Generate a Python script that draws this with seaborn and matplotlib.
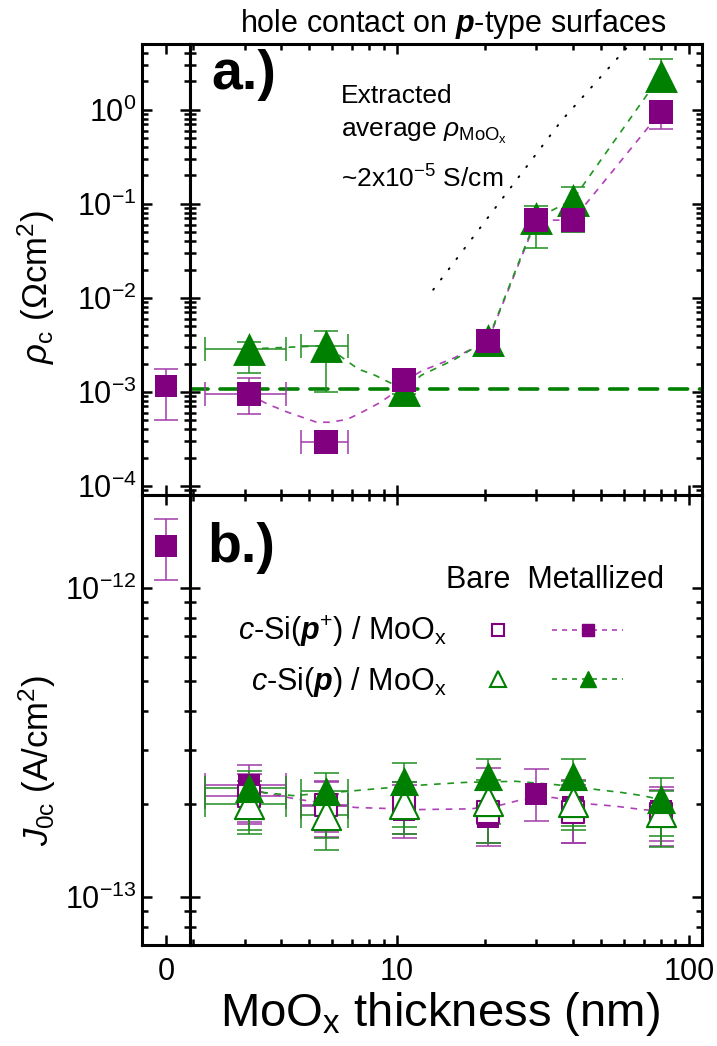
import numpy as np
import matplotlib
matplotlib.use("Agg")
import matplotlib.pyplot as plt
import seaborn as sns
from matplotlib.ticker import FixedLocator, FixedFormatter, NullFormatter, NullLocator
from matplotlib.lines import Line2D
from matplotlib.legend_handler import HandlerTuple

# ---------------- data ----------------
# panel a: contact resistivity rho_c (Ohm cm^2)
ref_x = [0.0]
rho_ref = [1.15e-3]
rho_ref_lo = [5.0e-4]
rho_ref_hi = [1.75e-3]

thick_pp = [3.1, 5.7, 10.6, 20.5, 30.0, 40.0, 80.0]
rho_pp = [9.4e-4, 2.9e-4, 1.35e-3, 3.5e-3, 6.7e-2, 6.7e-2, 0.94]
rho_pp_lo = [5.8e-4, 2.5e-4, 1.15e-3, 2.4e-3, 5.0e-2, 5.0e-2, 0.63]
rho_pp_hi = [1.42e-3, 3.4e-4, 1.6e-3, 4.5e-3, 8.5e-2, 8.5e-2, 1.2]

thick_p = [3.1, 5.7, 10.6, 20.5, 30.0, 40.0, 80.0]
rho_p = [2.86e-3, 3.1e-3, 1.05e-3, 3.6e-3, 7.0e-2, 0.11, 2.3]
rho_p_lo = [1.6e-3, 1.0e-3, 0.95e-3, 2.8e-3, 3.4e-2, 5.0e-2, 1.7]
rho_p_hi = [3.4e-3, 4.4e-3, 1.2e-3, 4.6e-3, 9.5e-2, 0.15, 3.5]

# thickness uncertainty of the two thinnest films
thin_x = [3.1, 5.7]
thin_x_lo = [2.2, 4.7]
thin_x_hi = [4.15, 6.8]

# guide-to-the-eye curves
guide_a_pp_x = [3.1, 3.6, 4.2, 5.3, 5.9, 6.75, 7.6, 8.75, 9.6, 10.6, 12.1, 15.7, 20.5, 30.0, 40.0, 80.0]
guide_a_pp_y = [9.4e-4, 7.4e-4, 6.1e-4, 4.75e-4, 4.75e-4, 5.1e-4, 6.1e-4, 7.7e-4, 9.4e-4, 1.3e-3,
                1.66e-3, 2.3e-3, 3.5e-3, 6.7e-2, 6.7e-2, 0.94]
guide_a_p_x = [3.1, 5.7, 7.35, 8.4, 10.6, 12.1, 15.7, 20.5, 30.0, 40.0, 80.0]
guide_a_p_y = [2.86e-3, 3.1e-3, 1.75e-3, 1.5e-3, 1.05e-3, 1.5e-3, 2.2e-3, 3.6e-3, 7.0e-2, 0.11, 2.3]

# average rho_c of the reference contact and fitted MoOx-resistivity line
rho_avg_level = 1.08e-3
fit_x = [13.3, 36.6, 62.5]
fit_y = [1.22e-2, 0.765, 4.87]

# panel b: recombination parameter J0c (A/cm^2)
J_ref = [1.365e-12]
J_ref_lo = [1.06e-12]
J_ref_hi = [1.67e-12]

J_pp_met_x = [3.1, 5.7, 10.6, 20.5, 30.0, 40.0, 80.0]
J_pp_met = [2.30e-13, 1.97e-13, 1.92e-13, 1.82e-13, 2.16e-13, 1.95e-13, 1.90e-13]
J_pp_met_lo = [1.75e-13, 1.56e-13, 1.55e-13, 1.46e-13, 1.76e-13, 1.50e-13, 1.46e-13]
J_pp_met_hi = [2.67e-13, 2.38e-13, 2.30e-13, 2.62e-13, 2.59e-13, 2.40e-13, 2.27e-13]

J_p_met_x = [3.1, 5.7, 10.6, 20.5, 40.0, 80.0]
J_p_met = [2.26e-13, 2.20e-13, 2.37e-13, 2.46e-13, 2.46e-13, 2.07e-13]
J_p_met_lo = [1.60e-13, 1.42e-13, 1.60e-13, 1.50e-13, 1.65e-13, 1.45e-13]
J_p_met_hi = [2.56e-13, 2.53e-13, 2.72e-13, 2.80e-13, 2.80e-13, 2.43e-13]

J_pp_bare_x = [3.1, 5.7, 10.6, 20.5, 40.0, 80.0]
J_pp_bare = [2.12e-13, 1.98e-13, 1.98e-13, 1.88e-13, 1.89e-13, 1.86e-13]
J_pp_bare_lo = [1.72e-13, 1.62e-13, 1.60e-13, 1.50e-13, 1.50e-13, 1.52e-13]
J_pp_bare_hi = [2.50e-13, 2.35e-13, 2.36e-13, 2.25e-13, 2.30e-13, 2.22e-13]

J_p_bare_x = [3.1, 5.7, 10.6, 20.5, 40.0, 80.0]
J_p_bare = [2.00e-13, 1.84e-13, 2.00e-13, 2.05e-13, 2.03e-13, 1.88e-13]
J_p_bare_lo = [1.65e-13, 1.55e-13, 1.68e-13, 1.72e-13, 1.70e-13, 1.58e-13]
J_p_bare_hi = [2.38e-13, 2.15e-13, 2.35e-13, 2.40e-13, 2.38e-13, 2.20e-13]

guide_b_pp_x = [3.1, 3.45, 4.6, 7.2, 12.0, 17.9, 22.9, 26.9, 34.3, 46.1, 55.8, 69.2, 80.0]
guide_b_pp_y = [2.30e-13, 2.18e-13, 2.07e-13, 1.95e-13, 1.92e-13, 1.93e-13, 1.99e-13, 2.07e-13,
                2.10e-13, 2.00e-13, 1.97e-13, 1.92e-13, 1.90e-13]
guide_b_p_x = [3.1, 3.5, 4.4, 6.8, 8.4, 12.6, 17.0, 25.5, 35.2, 50.0, 58.9, 69.2, 80.0]
guide_b_p_y = [2.26e-13, 2.18e-13, 2.13e-13, 2.20e-13, 2.24e-13, 2.31e-13, 2.35e-13, 2.37e-13,
               2.31e-13, 2.22e-13, 2.18e-13, 2.13e-13, 2.07e-13]

# axis ticks
x_major_main = [10, 100]
x_major_main_labels = ["10", "100"]
x_major_left = [0]
x_major_left_labels = ["0"]
ya_major = [1e-4, 1e-3, 1e-2, 1e-1, 1e0]
ya_major_labels = [r"10$^{-4}$", r"10$^{-3}$", r"10$^{-2}$", r"10$^{-1}$", r"10$^{0}$"]
yb_major = [1e-13, 1e-12]
yb_major_labels = [r"10$^{-13}$", r"10$^{-12}$"]

# ---------------- style ----------------
sns.set_theme(style="ticks")
plt.rcParams["font.family"] = ["Liberation Sans", "DejaVu Sans"]
plt.rcParams["mathtext.fontset"] = "custom"
plt.rcParams["mathtext.rm"] = "Liberation Sans"
plt.rcParams["mathtext.it"] = "Liberation Sans:italic"
plt.rcParams["mathtext.bf"] = "Liberation Sans:italic:bold"
plt.rcParams["mathtext.sf"] = "Liberation Sans"
plt.rcParams["axes.unicode_minus"] = False
plt.rcParams["text.color"] = "black"
plt.rcParams["axes.labelcolor"] = "black"

purple = "#800080"
purple_err = "#a03aa8"
purple_dash = "#b040b8"
green = "#008000"
green_err = "#1f8f1f"
green_dash = "#1f951f"

fig = plt.figure(figsize=(7.17, 10.46), dpi=100)
W, H = 717.0, 1046.0


def frac(x0, y0, x1, y1):
    return [x0 / W, 1 - y1 / H, (x1 - x0) / W, (y1 - y0) / H]


axaL = fig.add_axes(frac(142, 44, 190, 495))
axaM = fig.add_axes(frac(190, 44, 702, 495))
axbL = fig.add_axes(frac(142, 495, 190, 945))
axbM = fig.add_axes(frac(190, 495, 702, 945))

for ax in (axaL, axaM, axbL, axbM):
    ax.set_facecolor("white")
    ax.set_yscale("log")
    for s in ax.spines.values():
        s.set_linewidth(2.2)
        s.set_color("black")
        s.set_visible(True)
    ax.tick_params(which="both", direction="in", top=True, bottom=True, left=True, right=True,
                   width=1.8, color="black", labelsize=22, labelcolor="black")
    ax.tick_params(which="major", length=7)
    ax.tick_params(which="minor", length=4.3)
    ax.grid(False)


def minor_log(lo_dec, hi_dec):
    return [m * 10.0 ** d for d in range(lo_dec, hi_dec) for m in range(2, 10)]


for ax in (axaL, axaM):
    ax.set_ylim(8e-5, 5)
    ax.yaxis.set_major_locator(FixedLocator(ya_major))
    ax.yaxis.set_major_formatter(FixedFormatter(ya_major_labels))
    ax.yaxis.set_minor_locator(FixedLocator([v for v in minor_log(-5, 1) if 8e-5 < v < 5]))
    ax.yaxis.set_minor_formatter(NullFormatter())
    ax.tick_params(axis="x", which="both", labelbottom=False)
for ax in (axbL, axbM):
    ax.set_ylim(7e-14, 2e-12)
    ax.yaxis.set_major_locator(FixedLocator(yb_major))
    ax.yaxis.set_major_formatter(FixedFormatter(yb_major_labels))
    ax.yaxis.set_minor_locator(FixedLocator([v for v in minor_log(-14, -11) if 7e-14 < v < 1.99e-12]))
    ax.yaxis.set_minor_formatter(NullFormatter())
    ax.tick_params(axis="x", which="major", pad=9)

for ax in (axaM, axbM):
    ax.set_xscale("log")
    ax.set_xlim(1.95, 111)
    ax.xaxis.set_major_locator(FixedLocator(x_major_main))
    ax.xaxis.set_major_formatter(FixedFormatter(x_major_main_labels))
    ax.xaxis.set_minor_locator(FixedLocator([v for v in minor_log(0, 2) if 1.95 < v < 111]))
    ax.xaxis.set_minor_formatter(NullFormatter())
    ax.tick_params(axis="y", which="both", labelleft=False)

for ax in (axaL, axbL):
    ax.set_xlim(-1, 1)
    ax.xaxis.set_major_locator(FixedLocator(x_major_left))
    ax.xaxis.set_major_formatter(FixedFormatter(x_major_left_labels))
    ax.xaxis.set_minor_locator(NullLocator())
    ax.tick_params(axis="y", which="major", pad=4)


def yerr(y, lo, hi):
    y = np.asarray(y, float)
    return [y - np.asarray(lo, float), np.asarray(hi, float) - y]


def xerr(x, lo, hi):
    x = np.asarray(x, float)
    return [x - np.asarray(lo, float), np.asarray(hi, float) - x]


# ---------------- panel a ----------------
axaM.axhline(rho_avg_level, color=green, lw=2.6, ls=(0, (5, 3.3)), dash_capstyle="round", zorder=2)
sns.lineplot(x=fit_x, y=fit_y, ax=axaM, color="black", lw=1.4, ls=(0, (0.6, 6)),
             dash_capstyle="round", sort=False, estimator=None, zorder=2)
sns.lineplot(x=guide_a_pp_x, y=guide_a_pp_y, ax=axaM, color=purple_dash, lw=1.2, ls=(0, (4, 4)),
             sort=False, estimator=None, zorder=3)
sns.lineplot(x=guide_a_p_x, y=guide_a_p_y, ax=axaM, color=green_dash, lw=1.2, ls=(0, (4, 4)),
             sort=False, estimator=None, zorder=3)

axaM.errorbar(thick_pp, rho_pp, yerr=yerr(rho_pp, rho_pp_lo, rho_pp_hi), fmt="none",
              ecolor=purple_err, elinewidth=1.1, capsize=8.5, capthick=1.1, zorder=4)
axaM.errorbar(thin_x, rho_pp[:2], xerr=xerr(thin_x, thin_x_lo, thin_x_hi), fmt="none",
              ecolor=purple_err, elinewidth=1.1, capsize=8.5, capthick=1.1, zorder=4)
axaM.errorbar(thick_p, rho_p, yerr=yerr(rho_p, rho_p_lo, rho_p_hi), fmt="none",
              ecolor=green_err, elinewidth=1.1, capsize=8.5, capthick=1.1, zorder=4)
axaM.errorbar(thin_x, rho_p[:2], xerr=xerr(thin_x, thin_x_lo, thin_x_hi), fmt="none",
              ecolor=green_err, elinewidth=1.1, capsize=8.5, capthick=1.1, zorder=4)

sns.scatterplot(x=thick_p, y=rho_p, ax=axaM, marker="^", s=560, color=green, edgecolor=green,
                linewidth=0, zorder=5)
sns.scatterplot(x=thick_pp, y=rho_pp, ax=axaM, marker="s", s=300, color=purple, edgecolor=purple,
                linewidth=0, zorder=6)

axaL.errorbar(ref_x, rho_ref, yerr=yerr(rho_ref, rho_ref_lo, rho_ref_hi), fmt="none",
              ecolor=purple_err, elinewidth=1.1, capsize=8.5, capthick=1.1, zorder=4)
sns.scatterplot(x=ref_x, y=rho_ref, ax=axaL, marker="s", s=270, color=purple, edgecolor=purple,
                linewidth=0, zorder=6)

# ---------------- panel b ----------------
sns.lineplot(x=guide_b_pp_x, y=guide_b_pp_y, ax=axbM, color=purple_dash, lw=1.2, ls=(0, (4, 4)),
             sort=False, estimator=None, zorder=3)
sns.lineplot(x=guide_b_p_x, y=guide_b_p_y, ax=axbM, color=green_dash, lw=1.2, ls=(0, (4, 4)),
             sort=False, estimator=None, zorder=3)

for xs, ys, lo, hi, col in [
    (J_pp_met_x, J_pp_met, J_pp_met_lo, J_pp_met_hi, purple_err),
    (J_pp_bare_x, J_pp_bare, J_pp_bare_lo, J_pp_bare_hi, purple_err),
    (J_p_bare_x, J_p_bare, J_p_bare_lo, J_p_bare_hi, green_err),
    (J_p_met_x, J_p_met, J_p_met_lo, J_p_met_hi, green_err),
]:
    axbM.errorbar(xs, ys, yerr=yerr(ys, lo, hi), fmt="none", ecolor=col, elinewidth=1.1,
                  capsize=9, capthick=1.1, zorder=4)
    axbM.errorbar(thin_x, ys[:2], xerr=xerr(thin_x, thin_x_lo, thin_x_hi), fmt="none", ecolor=col,
                  elinewidth=1.1, capsize=9, capthick=1.1, zorder=4)

sns.scatterplot(x=J_pp_met_x, y=J_pp_met, ax=axbM, marker="s", s=245, color=purple,
                edgecolor=purple, linewidth=0, zorder=5)
sns.scatterplot(x=J_pp_bare_x, y=J_pp_bare, ax=axbM, marker="s", s=245, color="white",
                edgecolor=purple, linewidth=1.5, zorder=6)
sns.scatterplot(x=J_p_bare_x, y=J_p_bare, ax=axbM, marker="^", s=440, color="white",
                edgecolor=green, linewidth=1.5, zorder=7)
sns.scatterplot(x=J_p_met_x, y=J_p_met, ax=axbM, marker="^", s=440, color=green,
                edgecolor=green, linewidth=0, zorder=8)

axbL.errorbar(ref_x, J_ref, yerr=yerr(J_ref, J_ref_lo, J_ref_hi), fmt="none",
              ecolor=purple_err, elinewidth=1.1, capsize=8.5, capthick=1.1, zorder=4)
sns.scatterplot(x=ref_x, y=J_ref, ax=axbL, marker="s", s=270, color=purple, edgecolor=purple,
                linewidth=0, zorder=6)

# ---------------- labels & text ----------------
for ax in (axaL, axaM, axbL, axbM):
    ax.set_xlabel("")
    ax.set_ylabel("")

axaL.set_ylabel(r"$\rho_{\mathrm{c}}$ ($\Omega$cm$^{2}$)", fontsize=25, color="black")
axaL.yaxis.set_label_coords(-1.78, 0.46)
axbL.set_ylabel(r"$J_{\mathrm{0c}}$ (A/cm$^{2}$)", fontsize=25, color="black")
axbL.yaxis.set_label_coords(-1.74, 0.41)

axbM.set_xlabel(r"MoO$_{\mathrm{x}}$ thickness (nm)", fontsize=34, color="black")
axbM.xaxis.set_label_coords(0.488, -0.10)

axaM.set_title(r"hole contact on $\mathbf{p}$-type surfaces", fontsize=22, pad=9, x=0.514,
               color="black")

axaM.text(0.041, 0.931, "a.)", transform=axaM.transAxes, fontsize=40, fontweight="bold",
          ha="left", va="center", color="black")
axbM.text(0.033, 0.882, "b.)", transform=axbM.transAxes, fontsize=40, fontweight="bold",
          ha="left", va="center", color="black")

axaM.text(0.295, 0.869, "Extracted", transform=axaM.transAxes, fontsize=19, ha="left",
          va="baseline", color="black")
axaM.text(0.295, 0.794, r"average $\rho_{\mathrm{MoO}_{\mathrm{x}}}$", transform=axaM.transAxes,
          fontsize=19, ha="left", va="baseline", color="black")
axaM.text(0.295, 0.681, r"~2x10$^{-5}$ S/cm", transform=axaM.transAxes, fontsize=19,
          ha="left", va="baseline", color="black")

# legend
axbM.text(0.50, 0.793, "Bare  Metallized", transform=axbM.transAxes, fontsize=22,
          ha="left", va="baseline", color="black")
h_pp_bare = Line2D([], [], ls="none", marker="s", ms=9, mfc="white", mec=purple, mew=1.5)
h_pp_met = Line2D([], [], ls=(0, (3, 3)), lw=1.2, color=purple_dash, marker="s", ms=9,
                  mfc=purple, mec=purple)
h_p_bare = Line2D([], [], ls="none", marker="^", ms=11, mfc="white", mec=green, mew=1.5)
h_p_met = Line2D([], [], ls=(0, (3, 3)), lw=1.2, color=green_dash, marker="^", ms=11,
                 mfc=green, mec=green)
leg = axbM.legend([(h_pp_bare, h_pp_met), (h_p_bare, h_p_met)],
                  [r"$c$-Si($\mathbf{p}^{+}$) / MoO$_{\mathrm{x}}$",
                   r"$c$-Si($\mathbf{p}$) / MoO$_{\mathrm{x}}$"],
                  handler_map={tuple: HandlerTuple(ndivide=None, pad=0.62)},
                  markerfirst=False, frameon=False, fontsize=22, handlelength=5.26,
                  handletextpad=0.5, labelspacing=0.5, borderpad=0, borderaxespad=0,
                  loc="upper right", bbox_to_anchor=((623 - 190) / 512, 0.736),
                  labelcolor="black")

fig.savefig("out.png", dpi=100, facecolor="white")
